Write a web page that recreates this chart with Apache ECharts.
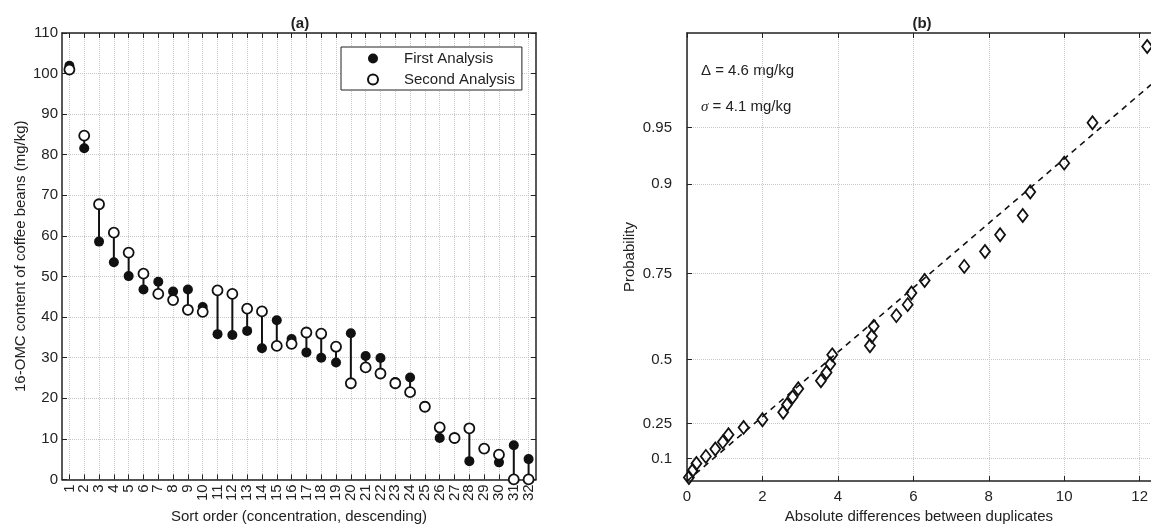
<!DOCTYPE html>
<html lang="en">
<head>
<meta charset="UTF-8">
<title>16-OMC content of coffee beans - duplicate analyses</title>
<script src="https://cdn.jsdelivr.net/npm/echarts@6/dist/echarts.min.js"></script>
<style>
  html, body { margin: 0; padding: 0; background: #fff; }
  #chart { width: 1151px; height: 529px; }
</style>
</head>
<body>
<div id="chart"></div>
<script>
// (a) duplicate analyses, sorted by concentration (mg/kg)
var sortOrder = [1, 2, 3, 4, 5, 6, 7, 8, 9, 10, 11, 12, 13, 14, 15, 16,
                 17, 18, 19, 20, 21, 22, 23, 24, 25, 26, 27, 28, 29, 30, 31, 32];
var firstAnalysis = [101.9, 81.6, 58.6, 53.5, 50.1, 46.8, 48.7, 46.3, 46.8, 42.5, 35.8, 35.6, 36.6, 32.3, 39.2, 34.6,
                     31.3, 30.0, 28.8, 36.0, 30.4, 29.9, 24.0, 25.1, 18.1, 10.2, 10.1, 4.5, 7.5, 4.2, 8.4, 5.0];
var secondAnalysis = [101.0, 84.7, 67.8, 60.8, 55.9, 50.7, 45.7, 44.2, 41.8, 41.3, 46.6, 45.7, 42.1, 41.4, 32.9, 33.4,
                      36.2, 35.9, 32.7, 23.7, 27.6, 26.1, 23.7, 21.5, 17.9, 12.8, 10.2, 12.6, 7.6, 6.1, 0, 0];

// (b) half-normal probability plot of the absolute differences
var absDiff = [0.05, 0.15, 0.25, 0.5, 0.75, 0.95, 1.1, 1.5, 2.0, 2.55, 2.65, 2.8, 2.95, 3.55, 3.7, 3.8,
               3.85, 4.85, 4.9, 4.95, 5.55, 5.85, 5.95, 6.3, 7.35, 7.9, 8.3, 8.9, 9.1, 10.0, 10.75, 12.2];
var plotProb = [0.016, 0.047, 0.078, 0.109, 0.141, 0.172, 0.203, 0.234, 0.266, 0.297, 0.328, 0.359, 0.391, 0.422, 0.453, 0.484,
                0.516, 0.547, 0.578, 0.609, 0.641, 0.672, 0.703, 0.734, 0.766, 0.797, 0.828, 0.859, 0.891, 0.922, 0.953, 0.984];
var fitDiff = [0, 12.3];
var fitProb = [0, 0.972];
var probTicks = [0.1, 0.25, 0.5, 0.75, 0.9, 0.95];
var probTickText = ['0.1', '0.25', '0.5', '0.75', '0.9', '0.95'];
var diffTicks = [0, 2, 4, 6, 8, 10, 12];
var probTop = 0.987;

var ink = '#222';
var gridLine = { show: true, lineStyle: { color: '#c8c8c8', type: 'dotted', width: 1 } };

// inverse normal cdf (Acklam), used to build the half-normal probability scale
function normInv(p) {
  var a = [-3.969683028665376e+01, 2.209460984245205e+02, -2.759285104469687e+02, 1.383577518672690e+02, -3.066479806614716e+01, 2.506628277459239e+00];
  var b = [-5.447609879822406e+01, 1.615858368580409e+02, -1.556989798598866e+02, 6.680131188771972e+01, -1.328068155288572e+01];
  var c = [-7.784894002430293e-03, -3.223964580411365e-01, -2.400758277161838e+00, -2.549732539343734e+00, 4.374664141464968e+00, 2.938163982698783e+00];
  var d = [7.784695709041462e-03, 3.224671290700398e-01, 2.445134137142996e+00, 3.754408661907416e+00];
  var pl = 0.02425, q, r;
  if (p < pl) {
    q = Math.sqrt(-2 * Math.log(p));
    return (((((c[0]*q+c[1])*q+c[2])*q+c[3])*q+c[4])*q+c[5]) / ((((d[0]*q+d[1])*q+d[2])*q+d[3])*q+1);
  }
  if (p > 1 - pl) {
    q = Math.sqrt(-2 * Math.log(1 - p));
    return -(((((c[0]*q+c[1])*q+c[2])*q+c[3])*q+c[4])*q+c[5]) / ((((d[0]*q+d[1])*q+d[2])*q+d[3])*q+1);
  }
  q = p - 0.5; r = q * q;
  return (((((a[0]*r+a[1])*r+a[2])*r+a[3])*r+a[4])*r+a[5])*q / (((((b[0]*r+b[1])*r+b[2])*r+b[3])*r+b[4])*r+1);
}
function halfNorm(p) { return p <= 0 ? 0 : normInv((1 + p) / 2); }

var tickZ = probTicks.map(halfNorm);
function probLabel(v) {
  var best = 0;
  for (var i = 1; i < tickZ.length; i++) {
    if (Math.abs(tickZ[i] - v) < Math.abs(tickZ[best] - v)) best = i;
  }
  return probTickText[best];
}

var stems = sortOrder.map(function (s, i) { return [s, firstAnalysis[i], secondAnalysis[i]]; });
var firstPts = sortOrder.map(function (s, i) { return [s, firstAnalysis[i]]; });
var secondPts = sortOrder.map(function (s, i) { return [s, secondAnalysis[i]]; });
var diffPts = absDiff.map(function (x, i) { return [x, halfNorm(plotProb[i])]; });
var fitPts = fitDiff.map(function (x, i) { return [x, halfNorm(fitProb[i])]; });

var chart = echarts.init(document.getElementById('chart'), null, { renderer: 'canvas' });
var option = {
  animation: false,
  textStyle: { fontFamily: '"Liberation Sans", Arial, sans-serif', color: ink },
  grid: [
    { left: 62, top: 33, width: 474, height: 455 },
    { left: 687, top: 33, width: 464, height: 454 }
  ],
  legend: {
    data: ['First Analysis', 'Second Analysis'],
    orient: 'vertical',
    left: 341, top: 47,
    itemWidth: 10, itemHeight: 10, itemGap: 6,
    padding: [4, 7, 3, 26],
    borderColor: ink, borderWidth: 1,
    backgroundColor: '#fff',
    textStyle: { fontSize: 15, color: ink, padding: [1, 0, 1, 21] }
  },
  graphic: [
    { type: 'text', x: 300, y: 24, style: { text: '(a)', font: 'bold 15px "Liberation Sans", Arial, sans-serif', fill: ink, textAlign: 'center', textVerticalAlign: 'middle' } },
    { type: 'text', x: 922, y: 24, style: { text: '(b)', font: 'bold 15px "Liberation Sans", Arial, sans-serif', fill: ink, textAlign: 'center', textVerticalAlign: 'middle' } },
    { type: 'text', x: 701, y: 71, style: { text: '\u0394 = 4.6 mg/kg', font: '15px "Liberation Sans", Arial, sans-serif', fill: ink, textVerticalAlign: 'middle' } },
    { type: 'text', x: 701, y: 107, style: { text: '{i|\u03c3} = 4.1 mg/kg', font: '15px "Liberation Sans", Arial, sans-serif', fill: ink, textVerticalAlign: 'middle',
      rich: { i: { fontStyle: 'italic', fontSize: 15, fontFamily: '"Liberation Serif", serif' } } } }
  ],
  xAxis: [
    {
      type: 'value', gridIndex: 0, min: 0.5, max: 32.5,
      name: 'Sort order (concentration, descending)', nameLocation: 'middle', nameGap: 24,
      nameTextStyle: { fontSize: 15, color: ink },
      axisLine: { onZero: false, lineStyle: { color: ink, width: 1.5 } },
      axisTick: { inside: true, length: 5, customValues: sortOrder, lineStyle: { color: ink } },
      axisLabel: { customValues: sortOrder, rotate: 90, fontSize: 15, color: ink, margin: 5 },
      splitLine: gridLine
    },
    {
      type: 'value', gridIndex: 0, min: 0.5, max: 32.5, position: 'top',
      axisLine: { onZero: false, lineStyle: { color: ink, width: 1.5 } },
      axisTick: { inside: true, length: 5, customValues: sortOrder, lineStyle: { color: ink } },
      axisLabel: { show: false }, splitLine: { show: false }
    },
    {
      type: 'value', gridIndex: 1, min: 0, max: 12.3,
      name: 'Absolute differences between duplicates', nameLocation: 'middle', nameGap: 27,
      nameTextStyle: { fontSize: 15, color: ink },
      axisLine: { onZero: false, lineStyle: { color: ink, width: 1.5 } },
      axisTick: { inside: true, length: 5, customValues: diffTicks, lineStyle: { color: ink } },
      axisLabel: { customValues: diffTicks, fontSize: 15, color: ink, margin: 8 },
      splitLine: gridLine
    },
    {
      type: 'value', gridIndex: 1, min: 0, max: 12.3, position: 'top',
      axisLine: { onZero: false, lineStyle: { color: ink, width: 1.5 } },
      axisTick: { inside: true, length: 5, customValues: diffTicks, lineStyle: { color: ink } },
      axisLabel: { show: false }, splitLine: { show: false }
    }
  ],
  yAxis: [
    {
      type: 'value', gridIndex: 0, min: 0, max: 110, interval: 10,
      name: '16-OMC content of coffee beans (mg/kg)', nameLocation: 'middle', nameGap: 34,
      nameTextStyle: { fontSize: 15, color: ink },
      axisLine: { show: true, onZero: false, lineStyle: { color: ink, width: 1.5 } },
      axisTick: { show: true, inside: true, length: 5, lineStyle: { color: ink } },
      axisLabel: { fontSize: 15, color: ink, margin: 4 },
      splitLine: gridLine
    },
    {
      type: 'value', gridIndex: 0, min: 0, max: 110, interval: 10, position: 'right',
      axisLine: { show: true, onZero: false, lineStyle: { color: ink, width: 1.5 } },
      axisTick: { show: true, inside: true, length: 5, lineStyle: { color: ink } },
      axisLabel: { show: false }, splitLine: { show: false }
    },
    {
      type: 'value', gridIndex: 1, min: 0, max: halfNorm(probTop),
      name: 'Probability', nameLocation: 'middle', nameGap: 50,
      nameTextStyle: { fontSize: 15, color: ink },
      axisLine: { show: true, onZero: false, lineStyle: { color: ink, width: 1.5 } },
      axisTick: { show: true, inside: true, length: 5, customValues: tickZ, lineStyle: { color: ink } },
      axisLabel: { customValues: tickZ, fontSize: 15, color: ink, margin: 15, formatter: probLabel },
      splitLine: gridLine
    }
  ],
  series: [
    {
      type: 'custom', name: 'stems', xAxisIndex: 0, yAxisIndex: 0,
      data: stems, encode: { x: 0, y: [1, 2] }, silent: true, z: 2,
      renderItem: function (params, api) {
        var a = api.coord([api.value(0), api.value(1)]);
        var b = api.coord([api.value(0), api.value(2)]);
        return { type: 'line', shape: { x1: a[0], y1: a[1], x2: b[0], y2: b[1] },
                 style: { stroke: '#111', lineWidth: 2 } };
      }
    },
    {
      type: 'scatter', name: 'First Analysis', xAxisIndex: 0, yAxisIndex: 0, z: 3,
      data: firstPts, symbol: 'circle', symbolSize: 10,
      itemStyle: { color: '#111', opacity: 1 }
    },
    {
      type: 'scatter', name: 'Second Analysis', xAxisIndex: 0, yAxisIndex: 0, z: 4,
      data: secondPts, symbol: 'circle', symbolSize: 10,
      itemStyle: { color: '#fff', borderColor: '#111', borderWidth: 1.8, opacity: 1 }
    },
    {
      type: 'line', name: 'fit', xAxisIndex: 2, yAxisIndex: 2, z: 2,
      data: fitPts, symbol: 'none', silent: true,
      lineStyle: { color: '#111', width: 1.6, type: [6, 5] }
    },
    {
      type: 'scatter', name: 'differences', xAxisIndex: 2, yAxisIndex: 2, z: 3,
      data: diffPts, symbol: 'diamond', symbolSize: [10, 13],
      itemStyle: { color: 'rgba(255,255,255,0)', borderColor: '#111', borderWidth: 1.8, opacity: 1 }
    }
  ]
};
chart.setOption(option);
</script>
</body>
</html>
